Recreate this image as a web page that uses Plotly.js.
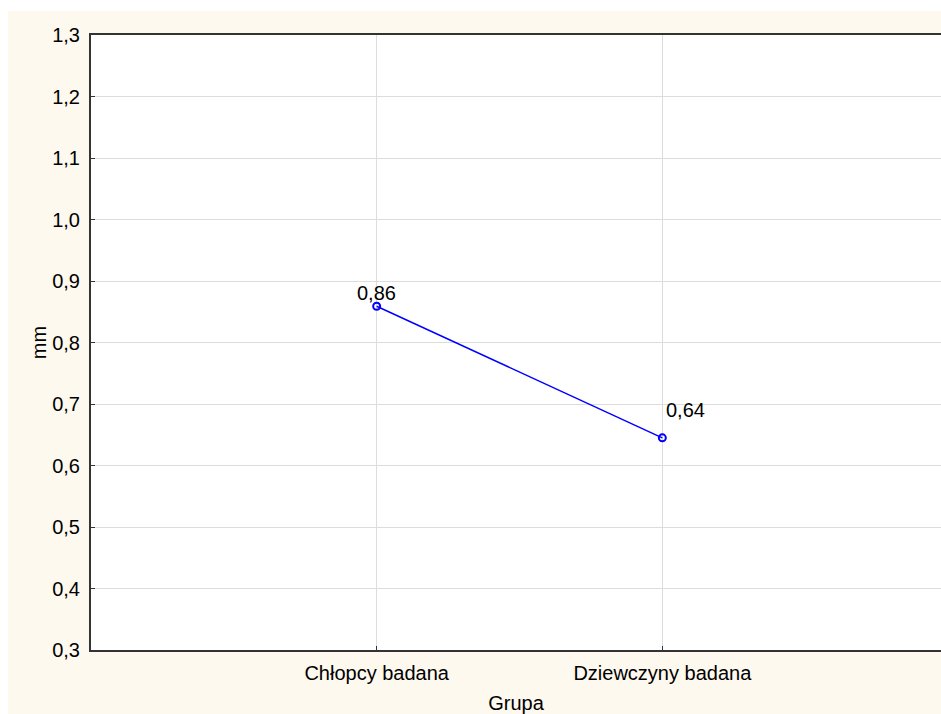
<!DOCTYPE html>
<html>
<head>
<meta charset="utf-8">
<script src="https://cdn.plot.ly/plotly-3.0.1.min.js"></script>
<style>
html, body { margin:0; padding:0; background:#ffffff; overflow:hidden; width:941px; height:714px; }
#chart { position:absolute; left:8px; top:11px; width:933px; height:703px; }
</style>
</head>
<body>
<div id="chart"></div>
<script>
const categories = ['Chłopcy badana', 'Dziewczyny badana'];
const values = [0.859, 0.645];
const valueLabels = ['0,86', '0,64'];
const yTicks = [0.3, 0.4, 0.5, 0.6, 0.7, 0.8, 0.9, 1.0, 1.1, 1.2, 1.3];

const FONT = 'Liberation Sans, Arial, sans-serif';

const trace = {
  x: [0, 1],
  y: values,
  type: 'scatter',
  mode: 'lines+markers',
  line: { color: '#0000ff', width: 1.5 },
  marker: { symbol: 'circle-open', size: 7, color: '#0000ff', line: { width: 2, color: '#0000ff' } },
  cliponaxis: false,
  hoverinfo: 'none'
};

const labelStyle = [
  { xanchor: 'center', xshift: 0, yshift: 0 },
  { xanchor: 'left', xshift: 2, yshift: 15 }
];

const annotations = values.map((v, i) => ({
  x: i,
  y: v,
  xref: 'x',
  yref: 'y',
  text: valueLabels[i],
  showarrow: false,
  xanchor: labelStyle[i].xanchor,
  yanchor: 'bottom',
  xshift: labelStyle[i].xshift,
  yshift: labelStyle[i].yshift,
  font: { family: FONT, size: 20, color: '#000000' }
}));

const layout = {
  width: 933,
  height: 703,
  margin: { l: 83, r: 0, t: 24, b: 64 },
  paper_bgcolor: '#fef9ef',
  plot_bgcolor: '#ffffff',
  separators: ', ',
  font: { family: FONT, size: 20, color: '#000000' },
  showlegend: false,
  annotations: annotations,
  xaxis: {
    range: [-1, 1.9755],
    tickvals: [0, 1],
    ticktext: categories,
    showgrid: true,
    gridcolor: '#dcdcdc',
    gridwidth: 1,
    zeroline: false,
    showline: true,
    linecolor: '#333333',
    linewidth: 2,
    mirror: true,
    ticks: 'inside',
    ticklen: 4,
    tickcolor: '#333333',
    tickfont: { size: 20 },
    ticklabelstandoff: 4,
    title: { text: 'Grupa', font: { size: 20 }, standoff: 17 }
  },
  yaxis: {
    range: [0.3, 1.3],
    tickvals: yTicks,
    tickformat: '.1f',
    showgrid: true,
    gridcolor: '#dcdcdc',
    gridwidth: 1,
    zeroline: false,
    showline: true,
    linecolor: '#333333',
    linewidth: 2,
    mirror: false,
    ticks: 'inside',
    ticklen: 4,
    tickcolor: '#333333',
    tickfont: { size: 20 },
    ticklabelstandoff: 5,
    title: { text: 'mm', font: { size: 20 }, standoff: 0 }
  }
};

Plotly.newPlot('chart', [trace], layout, { staticPlot: true, displayModeBar: false });
</script>
</body>
</html>
